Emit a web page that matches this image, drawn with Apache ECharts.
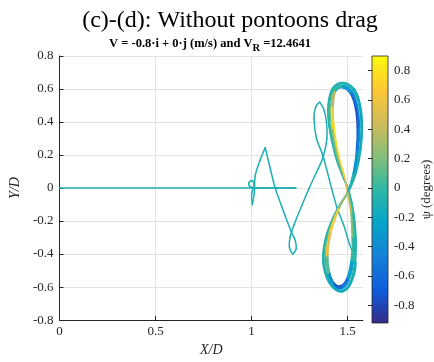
<!DOCTYPE html>
<html>
<head>
<meta charset="utf-8">
<script src="https://cdn.jsdelivr.net/npm/echarts@6/dist/echarts.min.js"></script>
<style>
  html, body { margin: 0; padding: 0; background: #ffffff; }
  #chart { width: 434px; height: 362px; }
</style>
</head>
<body>
<div id="chart"></div>
<script>
// Trajectory of the body in X/D, Y/D with heading angle psi (degrees) at each sample.
// Transient run-in: straight drift, small curl, cusp, two loops, then the figure-eight laps.
const trackX = [
  0.000, 1.230, 1.120, 1.030, 0.990, 0.987, 1.002, 1.013, 1.000, 1.004,
  1.014, 1.019, 1.045, 1.071, 1.097, 1.123, 1.166, 1.205, 1.228, 1.232,
  1.214, 1.197, 1.200, 1.222, 1.300, 1.340, 1.373, 1.392, 1.390, 1.375,
  1.355, 1.333, 1.325, 1.338, 1.373, 1.416, 1.445, 1.478, 1.510,
  // lap 1
  1.543, 1.518, 1.475, 1.425, 1.387, 1.370, 1.392, 1.450, 1.507, 1.545, 1.569, 1.577,
  1.566, 1.535, 1.476, 1.422, 1.398, 1.403, 1.437, 1.474, 1.507, 1.532, 1.544,
  // lap 2
  1.540, 1.516, 1.474, 1.426, 1.390, 1.373, 1.395, 1.451, 1.506, 1.542, 1.566, 1.574,
  1.563, 1.532, 1.475, 1.424, 1.401, 1.406, 1.439, 1.475, 1.506, 1.530, 1.541,
  // lap 3
  1.537, 1.513, 1.473, 1.428, 1.393, 1.377, 1.398, 1.452, 1.505, 1.540, 1.562, 1.570,
  1.560, 1.530, 1.475, 1.427, 1.405, 1.410, 1.442, 1.477, 1.505, 1.528, 1.538,
  // lap 4
  1.530, 1.506, 1.469, 1.428, 1.397, 1.385, 1.404, 1.453, 1.502, 1.536, 1.556, 1.562,
  1.552, 1.524, 1.473, 1.430, 1.412, 1.417, 1.447, 1.480, 1.502, 1.524, 1.532,
  // lap 5
  1.523, 1.500, 1.465, 1.428, 1.402, 1.392, 1.410, 1.455, 1.500, 1.532, 1.550, 1.555,
  1.545, 1.518, 1.472, 1.433, 1.420, 1.425, 1.452, 1.482, 1.500, 1.520, 1.527,
  // lap 6
  1.518, 1.496, 1.463, 1.429, 1.406, 1.397, 1.414, 1.457, 1.499, 1.529, 1.546, 1.550,
  1.540, 1.514, 1.471, 1.436, 1.425, 1.430, 1.455, 1.484, 1.499, 1.517, 1.523,
  // lap 7 (final, partial)
  1.527, 1.503, 1.467, 1.428, 1.400, 1.389, 1.407, 1.454, 1.501, 1.534, 1.553, 1.558,
  1.548, 1.521, 1.472, 1.431, 1.416, 1.421
];

const trackY = [
  0.000, 0.000, 0.000, 0.000, 0.010, 0.035, 0.046, 0.025, -0.040, -0.100,
  -0.030, 0.076, 0.170, 0.245, 0.120, 0.000, -0.140, -0.260, -0.320, -0.370,
  -0.400, -0.360, -0.300, -0.220, 0.000, 0.100, 0.190, 0.300, 0.400, 0.480,
  0.520, 0.490, 0.420, 0.300, 0.190, 0.000, -0.120, -0.220, -0.340,
  // lap 1
  -0.455, -0.578, -0.628, -0.607, -0.535, -0.422, -0.272, -0.118, -0.018, 0.092, 0.232, 0.375,
  0.506, 0.600, 0.640, 0.608, 0.505, 0.372, 0.190, 0.072, -0.018, -0.150, -0.300,
  // lap 2
  -0.452, -0.574, -0.624, -0.603, -0.532, -0.421, -0.271, -0.119, -0.019, 0.091, 0.231, 0.372,
  0.503, 0.596, 0.636, 0.604, 0.502, 0.371, 0.190, 0.071, -0.019, -0.150, -0.300,
  // lap 3
  -0.450, -0.570, -0.620, -0.600, -0.530, -0.420, -0.270, -0.120, -0.020, 0.090, 0.230, 0.370,
  0.500, 0.592, 0.632, 0.600, 0.500, 0.370, 0.190, 0.070, -0.020, -0.150, -0.300,
  // lap 4
  -0.448, -0.562, -0.610, -0.591, -0.522, -0.415, -0.268, -0.120, -0.022, 0.090, 0.230, 0.370,
  0.495, 0.585, 0.623, 0.592, 0.495, 0.368, 0.190, 0.068, -0.022, -0.150, -0.300,
  // lap 5
  -0.445, -0.555, -0.600, -0.582, -0.515, -0.410, -0.265, -0.120, -0.025, 0.090, 0.230, 0.370,
  0.490, 0.578, 0.615, 0.585, 0.490, 0.365, 0.190, 0.068, -0.025, -0.150, -0.300,
  // lap 6
  -0.440, -0.548, -0.592, -0.575, -0.510, -0.407, -0.263, -0.120, -0.026, 0.090, 0.230, 0.370,
  0.486, 0.572, 0.608, 0.580, 0.487, 0.363, 0.190, 0.066, -0.026, -0.150, -0.300,
  // lap 7
  -0.447, -0.558, -0.605, -0.586, -0.518, -0.412, -0.266, -0.120, -0.023, 0.090, 0.230, 0.370,
  0.492, 0.581, 0.619, 0.588, 0.492, 0.366
];

const trackPsi = [
  -0.10, -0.10, -0.10, -0.10, -0.10, -0.10, -0.10, -0.10, -0.10, -0.10,
  -0.10, -0.10, -0.10, -0.10, -0.10, -0.10, -0.10, -0.10, -0.10, -0.10,
  -0.10, -0.10, -0.10, -0.10, -0.10, -0.10, -0.10, -0.10, -0.10, -0.10,
  -0.10, -0.10, -0.10, -0.10, -0.10, -0.10, -0.10, -0.10, -0.09,
  // lap 1
  -0.09, -0.10, -0.11, -0.10, -0.07, -0.06, -0.06, -0.07, -0.08, -0.09, -0.10, -0.11,
  -0.11, -0.10, -0.08, -0.07, -0.05, -0.05, -0.05, -0.06, -0.06, -0.07, -0.08,
  // lap 2
  -0.10, -0.13, -0.14, -0.11, -0.07, -0.04, -0.03, -0.06, -0.08, -0.10, -0.13, -0.14,
  -0.13, -0.11, -0.08, -0.05, -0.03, -0.02, -0.03, -0.04, -0.04, -0.06, -0.07,
  // lap 3
  -0.12, -0.18, -0.20, -0.14, -0.06, 0.00, 0.02, -0.03, -0.08, -0.13, -0.18, -0.20,
  -0.19, -0.14, -0.08, -0.02, 0.03, 0.04, 0.03, 0.00, -0.01, -0.03, -0.07,
  // lap 4
  -0.15, -0.26, -0.30, -0.19, -0.04, 0.07, 0.10, 0.01, -0.08, -0.17, -0.26, -0.30,
  -0.28, -0.19, -0.08, 0.03, 0.12, 0.14, 0.12, 0.07, 0.05, 0.01, -0.06,
  // lap 5
  -0.23, -0.48, -0.58, -0.33, 0.02, 0.27, 0.32, 0.12, -0.08, -0.28, -0.48, -0.58,
  -0.53, -0.33, -0.08, 0.17, 0.37, 0.42, 0.37, 0.27, 0.22, 0.12, -0.03,
  // lap 6
  -0.30, -0.66, -0.80, -0.45, 0.09, 0.52, 0.60, 0.26, -0.08, -0.38, -0.66, -0.78,
  -0.72, -0.45, -0.08, 0.35, 0.69, 0.77, 0.69, 0.52, 0.43, 0.26, 0.01,
  // lap 7
  -0.25, -0.50, -0.60, -0.30, 0.11, 0.59, 0.68, 0.30, -0.08, -0.30, -0.45, -0.55,
  -0.50, -0.30, -0.02, 0.40, 0.78, 0.87
];

// Axis ticks
const xTicks = [0, 0.5, 1, 1.5];
const psiTicks = [-0.8, -0.6, -0.4, -0.2, 0, 0.2, 0.4, 0.6, 0.8];
const psiRange = [-0.92, 0.9];

// parula colour map stops (low -> high)
const parula = ['#352a87', '#0f5cdd', '#1481d6', '#06a4ca', '#2eb7a4',
                '#87bf77', '#d1bb59', '#fec832', '#f9fb0e'];

const SERIF = "'Liberation Serif', 'Times New Roman', serif";
const INK = '#262626';

const chart = echarts.init(document.getElementById('chart'));
const nPts = trackX.length;

function trackPoint(api, k) {
  return api.coord([trackX[k], trackY[k]]);
}

// Catmull-Rom tangent in pixel space; zero at ends and at cusps (direction reversal)
function tangentAt(api, k) {
  if (k <= 0 || k >= nPts - 1) return [0, 0];
  const a = trackPoint(api, k - 1), b = trackPoint(api, k), c = trackPoint(api, k + 1);
  const dIn = [b[0] - a[0], b[1] - a[1]];
  const dOut = [c[0] - b[0], c[1] - b[1]];
  if (dIn[0] * dOut[0] + dIn[1] * dOut[1] <= 0) return [0, 0];
  return [(c[0] - a[0]) / 6, (c[1] - a[1]) / 6];
}

function renderTrack(params, api) {
  const i = params.dataIndex;
  if (i >= nPts - 1) return null;
  const p1 = trackPoint(api, i), p2 = trackPoint(api, i + 1);
  const t1 = tangentAt(api, i), t2 = tangentAt(api, i + 1);
  return {
    type: 'bezierCurve',
    shape: {
      x1: p1[0], y1: p1[1], x2: p2[0], y2: p2[1],
      cpx1: p1[0] + t1[0], cpy1: p1[1] + t1[1],
      cpx2: p2[0] - t2[0], cpy2: p2[1] - t2[1]
    },
    style: { stroke: api.visual('color'), lineWidth: 1.5, fill: null, lineCap: 'round' }
  };
}

function renderColorbar(params, api) {
  const tl = api.coord([0, psiRange[1]]);
  const br = api.coord([1, psiRange[0]]);
  return {
    type: 'rect',
    shape: { x: tl[0], y: tl[1], width: br[0] - tl[0], height: br[1] - tl[1] },
    style: {
      fill: new echarts.graphic.LinearGradient(0, 1, 0, 0,
        parula.map((c, k) => ({ offset: k / (parula.length - 1), color: c }))),
      stroke: INK,
      lineWidth: 0.8
    }
  };
}

const tickLabel = { fontFamily: SERIF, fontSize: 13, color: INK };

const option = {
  animation: false,
  backgroundColor: '#ffffff',
  grid: [
    { left: 58, top: 56, width: 305, height: 267 },
    { left: 372, top: 56, width: 17, height: 267 }
  ],
  xAxis: [
    {
      gridIndex: 0, type: 'value', min: 0, max: 1.58,
      name: 'X/D', nameLocation: 'middle', nameGap: 19,
      nameTextStyle: { fontFamily: SERIF, fontStyle: 'italic', fontSize: 14, color: INK },
      axisLine: { show: true, onZero: false, lineStyle: { color: INK, width: 1 } },
      axisTick: { show: true, inside: true, length: 4, customValues: xTicks, lineStyle: { color: INK } },
      axisLabel: Object.assign({ margin: 5, customValues: xTicks }, tickLabel),
      splitLine: { show: true, lineStyle: { color: '#e2e2e2', width: 1 } }
    },
    { gridIndex: 1, type: 'value', min: 0, max: 1, show: false }
  ],
  yAxis: [
    {
      gridIndex: 0, type: 'value', min: -0.8, max: 0.8, interval: 0.2,
      name: 'Y/D', nameLocation: 'middle', nameGap: 28, nameRotate: 90,
      nameTextStyle: { fontFamily: SERIF, fontStyle: 'italic', fontSize: 14, color: INK },
      axisLine: { show: true, onZero: false, lineStyle: { color: INK, width: 1 } },
      axisTick: { show: true, inside: true, length: 4, lineStyle: { color: INK } },
      axisLabel: Object.assign({ margin: 6 }, tickLabel),
      splitLine: { show: true, lineStyle: { color: '#e2e2e2', width: 1 } }
    },
    {
      gridIndex: 1, type: 'value', position: 'right', min: psiRange[0], max: psiRange[1],
      z: 10,
      name: 'ψ (degrees)', nameLocation: 'middle', nameGap: 32, nameRotate: 90,
      nameTextStyle: { fontFamily: SERIF, fontSize: 13, color: INK },
      axisLine: { show: false },
      axisTick: { show: true, inside: true, length: 4, customValues: psiTicks, lineStyle: { color: INK } },
      axisLabel: Object.assign({ margin: 6, customValues: psiTicks }, tickLabel),
      splitLine: { show: false }
    }
  ],
  visualMap: {
    type: 'continuous', show: false, seriesIndex: 0, dimension: 2,
    min: psiRange[0], max: psiRange[1],
    inRange: { color: parula }
  },
  graphic: [
    {
      type: 'text', x: 230, y: 21,
      style: {
        text: '(c)-(d): Without pontoons drag',
        fontFamily: SERIF, fontSize: 24, fill: '#000',
        align: 'center', verticalAlign: 'middle',
        textAlign: 'center', textVerticalAlign: 'middle'
      }
    },
    {
      type: 'text', x: 210, y: 44,
      style: {
        text: '{b|V = -0.8·i + 0·j (m/s) and V}{s|R}{b| =12.4641}',
        align: 'center', verticalAlign: 'middle',
        textAlign: 'center', textVerticalAlign: 'middle',
        rich: {
          b: { fontFamily: SERIF, fontWeight: 'bold', fontSize: 12.5, fill: '#000', color: '#000', lineHeight: 14 },
          s: { fontFamily: SERIF, fontWeight: 'bold', fontSize: 10.5, fill: '#000', color: '#000', lineHeight: 14, padding: [9, 0, 0, 0] }
        }
      }
    }
  ],
  series: [
    {
      type: 'custom',
      xAxisIndex: 0, yAxisIndex: 0,
      renderItem: renderTrack,
      dimensions: ['x', 'y', 'psi'],
      encode: { x: 0, y: 1 },
      data: trackX.map((x, k) => [x, trackY[k], trackPsi[k]]),
      clip: false,
      silent: true
    },
    {
      type: 'custom',
      xAxisIndex: 1, yAxisIndex: 1,
      renderItem: renderColorbar,
      data: [[0, psiRange[0]]],
      z: 1,
      silent: true
    }
  ]
};

chart.setOption(option);
</script>
</body>
</html>
